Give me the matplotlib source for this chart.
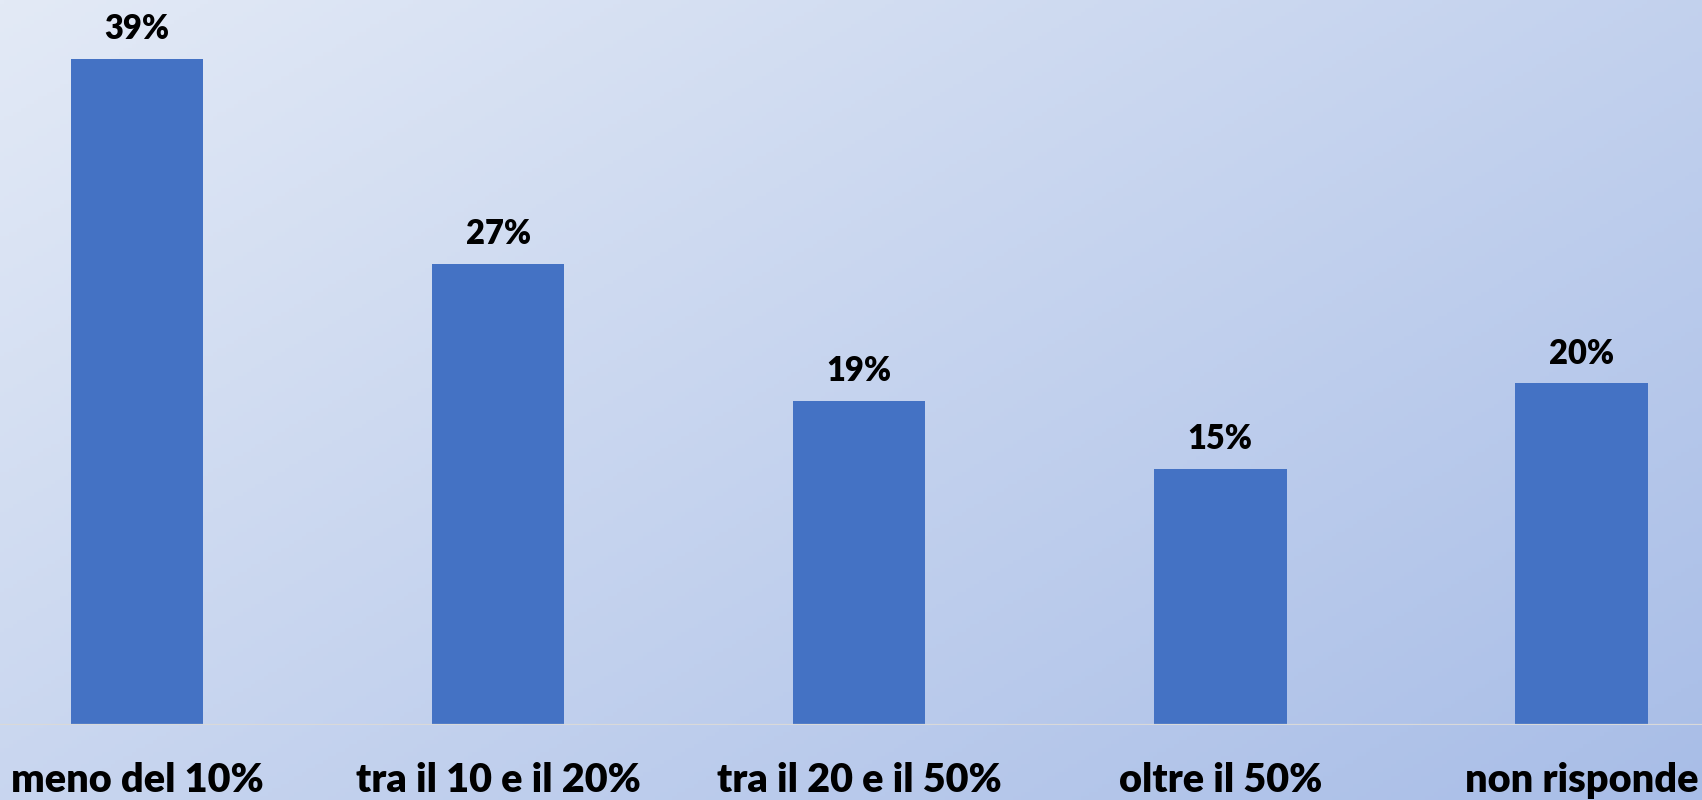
import numpy as np
import matplotlib
matplotlib.use("Agg")
import matplotlib.pyplot as plt
from matplotlib.colors import to_rgb

categories = ["meno del 10%", "tra il 10 e il 20%", "tra il 20 e il 50%", "oltre il 50%", "non risponde"]
values = [39, 27, 19, 15, 20]
value_labels = ["39%", "27%", "19%", "15%", "20%"]

W, H = 1702, 800
fig = plt.figure(figsize=(W / 100, H / 100), dpi=100)

# gradient background
bg = fig.add_axes([0, 0, 1, 1])
bg.set_axis_off()
c_tl = np.array(to_rgb("#e3eaf6"))
c_br = np.array(to_rgb("#a8bde7"))
xx, yy = np.meshgrid(np.linspace(0, 1, 400), np.linspace(0, 1, 200))
t = (xx * 0.55 + yy * 0.45)
img = c_tl[None, None, :] * (1 - t[..., None]) + c_br[None, None, :] * t[..., None]
bg.imshow(img, aspect="auto", extent=[0, 1, 0, 1], origin="upper")
bg.set_xlim(0, 1)
bg.set_ylim(0, 1)

bottom = 75 / H
ax = fig.add_axes([0, bottom, 1, 1 - bottom])
ax.patch.set_alpha(0)
x = np.arange(len(categories))
ax.bar(x, values, width=0.367, color="#4472c4", zorder=2)
ax.set_xlim(-0.3794, 4.334)
ax.set_ylim(0, 42.45)
for s in ax.spines.values():
    s.set_visible(False)
ax.axhline(0, color="#d9d9d9", lw=1.6, zorder=3)
ax.set_xticks([])
ax.set_yticks([])

font = "Lato"
for xi, v, lab in zip(x, values, value_labels):
    ax.annotate(lab, (xi, v), xytext=(0, 14), textcoords="offset points",
                ha="center", va="baseline", fontsize=23.5, fontweight="heavy",
                family=font, color="black")
for xi, cat in zip(x, categories):
    ax.annotate(cat, (xi, 0), xytext=(0, -48), textcoords="offset points",
                ha="center", va="baseline", fontsize=28.5, fontweight="heavy",
                family=font, color="black", annotation_clip=False)

fig.savefig("out.png", dpi=100)
